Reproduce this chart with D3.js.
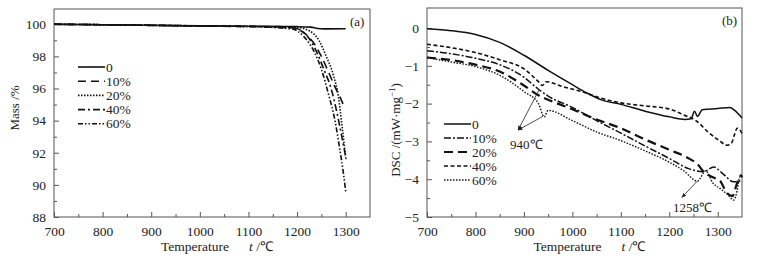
<!DOCTYPE html>
<html>
<head>
<meta charset="utf-8">
<script src="https://cdn.jsdelivr.net/npm/d3@7"></script>
<style>
  body { margin: 0; background: #fff; }
</style>
</head>
<body>
<svg id="chart" width="772" height="259"></svg>
<script>
// ---- data ----
const seriesNames = ["0", "10%", "20%", "40%", "60%"];

// (a) TG curves: [temperature, mass %]
const tg0  = [[700,100],[800,99.97],[900,99.94],[1000,99.91],[1100,99.88],[1200,99.85],[1228,99.82],[1242,99.74],[1255,99.71],[1300,99.72]];
const tg10 = [[700,100],[800,99.97],[900,99.93],[1000,99.89],[1100,99.86],[1160,99.85],[1190,99.78],[1215,99.45],[1235,98.8],[1250,98.0],[1265,97.0],[1278,96.1],[1288,95.5],[1295,95.0]];
const tg20 = [[700,100],[800,99.97],[900,99.93],[1000,99.9],[1100,99.86],[1200,99.8],[1225,99.6],[1245,99.0],[1260,98.0],[1275,96.8],[1285,95.5],[1292,93.8],[1300,91.7]];
const tg40 = [[700,100],[800,99.97],[900,99.94],[1000,99.9],[1100,99.87],[1195,99.75],[1220,99.3],[1240,98.3],[1255,97.2],[1270,96.0],[1282,94.5],[1292,93.0],[1301,91.6]];
const tg60 = [[700,100],[800,99.97],[900,99.93],[1000,99.89],[1100,99.86],[1190,99.7],[1215,99.2],[1235,98.3],[1250,97.2],[1265,95.6],[1278,94.0],[1288,92.2],[1295,90.8],[1300,89.6]];

// (b) DSC curves: [temperature, DSC mW/mg]
const dsc0  = [[700,-0.02],[750,-0.07],[800,-0.17],[850,-0.38],[900,-0.72],[950,-1.12],[1000,-1.5],[1030,-1.72],[1060,-1.9],[1100,-2.02],[1150,-2.2],[1200,-2.35],[1232,-2.42],[1245,-2.4],[1252,-2.2],[1258,-2.34],[1268,-2.16],[1300,-2.13],[1325,-2.1],[1335,-2.18],[1350,-2.38]];
const dsc10 = [[700,-0.6],[750,-0.68],[800,-0.8],[850,-0.97],[900,-1.3],[930,-1.62],[950,-1.8],[1000,-2.1],[1050,-2.45],[1100,-2.78],[1150,-3.12],[1200,-3.45],[1240,-3.72],[1270,-3.8],[1292,-3.68],[1310,-3.85],[1333,-4.07],[1345,-4.05],[1350,-4.0]];
const dsc20 = [[700,-0.78],[750,-0.85],[800,-0.97],[850,-1.15],[900,-1.52],[930,-1.78],[960,-1.95],[1000,-2.15],[1050,-2.42],[1100,-2.65],[1150,-2.95],[1200,-3.22],[1240,-3.45],[1258,-3.6],[1272,-3.82],[1290,-3.95],[1305,-4.05],[1318,-4.35],[1330,-4.45],[1340,-4.1],[1348,-3.9],[1350,-3.95]];
const dsc40 = [[700,-0.43],[750,-0.52],[800,-0.65],[850,-0.84],[900,-1.08],[930,-1.42],[938,-1.52],[946,-1.42],[980,-1.55],[1024,-1.7],[1060,-1.86],[1100,-1.98],[1150,-2.06],[1200,-2.14],[1230,-2.3],[1255,-2.45],[1280,-2.75],[1300,-2.95],[1320,-3.1],[1328,-3.05],[1335,-2.8],[1340,-2.65],[1345,-2.68],[1350,-2.8]];
const dsc60 = [[700,-0.78],[750,-0.9],[800,-1.02],[850,-1.25],[900,-1.68],[930,-2.0],[942,-2.35],[950,-2.18],[1000,-2.45],[1050,-2.75],[1100,-2.98],[1150,-3.25],[1200,-3.55],[1230,-3.78],[1258,-4.05],[1275,-3.78],[1290,-4.1],[1305,-4.25],[1320,-4.4],[1333,-4.55],[1340,-4.3],[1345,-3.95],[1350,-3.9]];

const xTicks = [700, 800, 900, 1000, 1100, 1200, 1300];
const xMinor = [750, 850, 950, 1050, 1150, 1250];
const tgTicks = [88, 90, 92, 94, 96, 98, 100];
const tgMinor = [89, 91, 93, 95, 97, 99];
const dscTicks = [-5, -4, -3, -2, -1, 0];
const dscMinor = [-4.5, -3.5, -2.5, -1.5, -0.5];

// annotations: [curve point T, v] -> [label end T, v]
const ann940 = [[[931, -1.64], [888, -2.7]], [[940, -2.33], [888, -2.7]]];
const ann1258 = [[[1258, -4.05], [1226, -4.48]]];

// ---- drawing ----
const svg = d3.select("#chart");
const axisColor = "#555";
const serif = "'Liberation Serif', 'Times New Roman', Times, serif";

svg.append("defs").append("marker")
    .attr("id", "arrow")
    .attr("viewBox", "0 0 10 10")
    .attr("refX", 9).attr("refY", 5)
    .attr("markerWidth", 6).attr("markerHeight", 6)
    .attr("orient", "auto")
    .append("path")
    .attr("d", "M0,1 L10,5 L0,9 z")
    .attr("fill", "#222");

function drawPanel(opt) {
    let g = svg.append("g").attr("font-family", serif).attr("fill", "#222");
    let x = d3.scaleLinear().domain([700, 1350]).range([opt.left, opt.right]);
    let y = d3.scaleLinear().domain(opt.yDomain).range([opt.bottom, opt.top]);

    // frame
    g.append("rect")
        .attr("x", opt.left).attr("y", opt.top)
        .attr("width", opt.right - opt.left).attr("height", opt.bottom - opt.top)
        .attr("fill", "none").attr("stroke", axisColor).attr("stroke-width", 1);

    // x axis (ticks inward)
    g.append("g").attr("transform", `translate(0,${opt.bottom})`)
        .call(d3.axisBottom(x).tickValues(xTicks).tickSizeInner(-5).tickSizeOuter(0).tickPadding(9)
            .tickFormat(d3.format("d")));
    g.append("g").attr("transform", `translate(0,${opt.bottom})`)
        .call(d3.axisBottom(x).tickValues(xMinor).tickSizeInner(-3).tickSizeOuter(0).tickFormat(""));

    // y axis
    g.append("g").attr("transform", `translate(${opt.left},0)`)
        .call(d3.axisLeft(y).tickValues(opt.yTicks).tickSizeInner(-5).tickSizeOuter(0).tickPadding(8)
            .tickFormat(d => d < 0 ? "\u2212" + Math.abs(d) : d));
    g.append("g").attr("transform", `translate(${opt.left},0)`)
        .call(d3.axisLeft(y).tickValues(opt.yMinor).tickSizeInner(-3).tickSizeOuter(0).tickFormat(""));

    g.selectAll(".domain").remove();
    g.selectAll(".tick line").attr("stroke", axisColor);
    g.selectAll(".tick text")
        .attr("font-family", serif)
        .attr("font-size", 13.5).attr("fill", "#222");

    // curves
    let line = d3.line().x(d => x(d[0])).y(d => y(d[1])).curve(d3.curveMonotoneX);
    opt.series.forEach(s => {
        g.append("path")
            .datum(s.data)
            .attr("fill", "none")
            .attr("stroke", "#111")
            .attr("stroke-width", s.width)
            .attr("stroke-dasharray", s.dash)
            .attr("d", line);
    });

    // legend
    opt.series.forEach((s, i) => {
        let ly = opt.legendY + i * opt.legendStep;
        g.append("line")
            .attr("x1", opt.legendX).attr("x2", opt.legendX + 27)
            .attr("y1", ly).attr("y2", ly)
            .attr("stroke", "#111").attr("stroke-width", s.width)
            .attr("stroke-dasharray", s.dash);
        g.append("text")
            .attr("x", opt.legendX + 28).attr("y", ly + 4.5)
            .attr("font-size", 13.5)
            .text(seriesNames[i]);
    });

    // panel letter
    g.append("text").attr("x", opt.right - 20).attr("y", opt.top + 17)
        .attr("font-size", 13).text(opt.letter);

    // x title
    let xt = g.append("text")
        .attr("x", (opt.left + opt.right) / 2 + 5).attr("y", 251)
        .attr("text-anchor", "middle").attr("font-size", 13.5);
    xt.append("tspan").text("Temperature");
    xt.append("tspan").attr("dx", 20).attr("font-style", "italic").text("t");
    xt.append("tspan").text(" /\u2103");

    // y title
    let yt = g.append("text")
        .attr("transform", `translate(${opt.yTitleX},${opt.yTitleY}) rotate(-90)`)
        .attr("text-anchor", "middle").attr("font-size", 13);
    opt.yTitle(yt);

    return { x, y, g };
}

const tgPanel = drawPanel({
    left: 54, right: 370, top: 9, bottom: 217,
    yDomain: [88, 100.95], yTicks: tgTicks, yMinor: tgMinor,
    letter: "(a)",
    legendX: 78, legendY: 67, legendStep: 14.2,
    yTitleX: 19, yTitleY: 108,
    yTitle: t => t.text("Mass /%"),
    series: [
        { data: tg0,  dash: null, width: 1.6 },
        { data: tg10, dash: "8,5", width: 1.6 },
        { data: tg20, dash: "1.5,1.5", width: 1.6 },
        { data: tg40, dash: "7,3,2,3", width: 1.6 },
        { data: tg60, dash: "5,2,1.5,2,1.5,2", width: 1.6 }
    ]
});

const dscPanel = drawPanel({
    left: 427, right: 742, top: 8, bottom: 217,
    yDomain: [-5, 0.53], yTicks: dscTicks, yMinor: dscMinor,
    letter: "(b)",
    legendX: 444, legendY: 124, legendStep: 14,
    yTitleX: 400, yTitleY: 130,
    yTitle: t => {
        t.append("tspan").text("DSC /(mW\u00b7mg");
        t.append("tspan").attr("dy", -5).attr("font-size", 9).text("\u22121");
        t.append("tspan").attr("dy", 5).text(")");
    },
    series: [
        { data: dsc0,  dash: null, width: 1.5 },
        { data: dsc10, dash: "7,2,2,2", width: 1.5 },
        { data: dsc20, dash: "9,5", width: 2.2 },
        { data: dsc40, dash: "4,2.5", width: 1.6 },
        { data: dsc60, dash: "1.5,1.5", width: 1.4 }
    ]
});

// annotations on (b)
const ax = dscPanel.x, ay = dscPanel.y;
ann940.concat(ann1258).forEach(a => {
    dscPanel.g.append("line")
        .attr("x1", ax(a[0][0])).attr("y1", ay(a[0][1]))
        .attr("x2", ax(a[1][0])).attr("y2", ay(a[1][1]))
        .attr("stroke", "#222").attr("stroke-width", 0.8)
        .attr("marker-end", "url(#arrow)");
});
dscPanel.g.append("text")
    .attr("x", ax(905)).attr("y", ay(-3.2))
    .attr("text-anchor", "middle").attr("font-size", 13)
    .text("940\u2103");
dscPanel.g.append("text")
    .attr("x", ax(1248)).attr("y", ay(-4.86))
    .attr("text-anchor", "middle").attr("font-size", 13)
    .text("1258\u2103");
</script>
</body>
</html>
